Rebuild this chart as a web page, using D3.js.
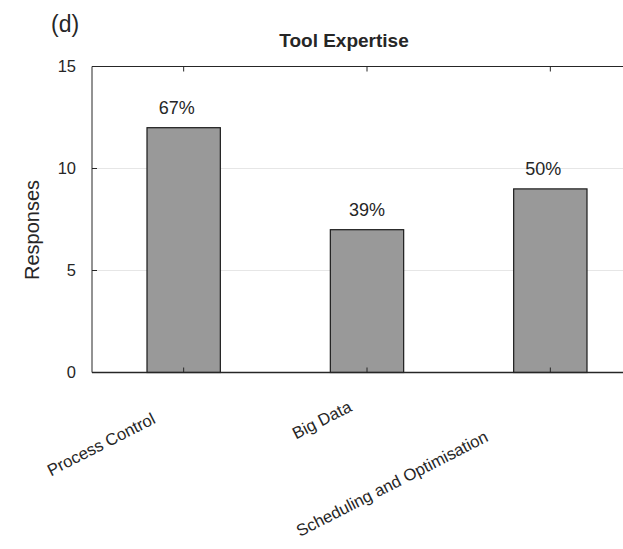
<!DOCTYPE html>
<html><head><meta charset="utf-8">
<script src="https://cdn.jsdelivr.net/npm/d3@7"></script>
<style>body{margin:0;background:#fff}svg{display:block}text{font-family:"Liberation Sans",Arial,sans-serif;fill:#262626}</style>
</head><body>
<script>
const categories = ["Process Control", "Big Data", "Scheduling and Optimisation"];
const responses = [12, 7, 9];
const percentLabels = ["67%", "39%", "50%"];
const yTicks = [0, 5, 10, 15];
// per-label placement (end of rotated text relative to its tick), layout only
const labelOffsets = [[-27, 50], [-14, 38], [-61, 68]];
const labelShift = [-7, 0, -7];

const W = 623, H = 549;
const svg = d3.select("body").append("svg").attr("width", W).attr("height", H);

const mL = 92, mR = 642, mT = 66.5, mB = 372.5;
const x = d3.scaleLinear().domain([0.5, 3.5]).range([mL, mR]);
const y = d3.scaleLinear().domain([0, 15]).range([mB, mT]);
const barW = 0.4;

// grid
svg.append("g").selectAll("line").data(yTicks.filter(t => t > 0 && t < 15)).join("line")
  .attr("x1", mL).attr("x2", mR).attr("y1", d => y(d)).attr("y2", d => y(d))
  .attr("stroke", "#e6e6e6").attr("stroke-width", 1);

// bars
svg.append("g").selectAll("rect").data(responses).join("rect")
  .attr("x", (d, i) => x(i + 1 - barW / 2))
  .attr("width", x(1 + barW / 2) - x(1 - barW / 2))
  .attr("y", d => y(d)).attr("height", d => y(0) - y(d))
  .attr("fill", "#999999").attr("stroke", "#1a1a1a").attr("stroke-width", 1.2);

// axes box
const axisCol = "#262626";
svg.append("line").attr("x1", mL).attr("x2", mR).attr("y1", mB).attr("y2", mB).attr("stroke", axisCol).attr("stroke-width", 1.5);
svg.append("line").attr("x1", mL).attr("x2", mR).attr("y1", mT).attr("y2", mT).attr("stroke", axisCol).attr("stroke-width", 1);
svg.append("line").attr("x1", mL).attr("x2", mL).attr("y1", mT).attr("y2", mB).attr("stroke", axisCol).attr("stroke-width", 1);

// y ticks
const yAxis = d3.axisLeft(y).tickValues(yTicks).tickSize(0).tickPadding(16);
const ga = svg.append("g").attr("transform", `translate(${mL},0)`).call(yAxis);
ga.select(".domain").remove();
ga.selectAll("text").style("font-size", "16.5px").attr("fill", "#262626").style("font-family", '"Liberation Sans",Arial,sans-serif');
svg.append("g").selectAll("line").data(yTicks.filter(t => t > 0 && t < 15)).join("line")
  .attr("x1", mL).attr("x2", mL + 5).attr("y1", d => y(d)).attr("y2", d => y(d))
  .attr("stroke", axisCol).attr("stroke-width", 1);

// x ticks (inside, top and bottom)
const xs = categories.map((c, i) => i + 1);
svg.append("g").selectAll("line").data(xs).join("line")
  .attr("x1", d => x(d)).attr("x2", d => x(d)).attr("y1", mB).attr("y2", mB - 5)
  .attr("stroke", axisCol).attr("stroke-width", 1);
svg.append("g").selectAll("line").data(xs).join("line")
  .attr("x1", d => x(d)).attr("x2", d => x(d)).attr("y1", mT).attr("y2", mT + 5)
  .attr("stroke", axisCol).attr("stroke-width", 1);

// x labels rotated
svg.append("g").selectAll("text").data(categories).join("text")
  .attr("transform", (d, i) => `translate(${x(i + 1) + labelOffsets[i][0]},${mB + labelOffsets[i][1]}) rotate(-27)`)
  .attr("text-anchor", "end").style("font-size", "16.7px").text(d => d);

// value labels
svg.append("g").selectAll("text").data(responses).join("text")
  .attr("x", (d, i) => x(i + 1) + labelShift[i]).attr("y", d => y(d) - 14)
  .attr("text-anchor", "middle").style("font-size", "18px").text((d, i) => percentLabels[i]);

// y label
svg.append("text").attr("transform", `translate(39,230) rotate(-90)`)
  .attr("text-anchor", "middle").style("font-size", "20px").text("Responses");

// title
svg.append("text").attr("x", 344).attr("y", 47).attr("text-anchor", "middle")
  .style("font-size", "19px").style("font-weight", "bold").attr("fill", "#000").text("Tool Expertise");

// panel label
svg.append("text").attr("x", 51).attr("y", 32).style("font-size", "23px").attr("fill", "#000").text("(d)");
</script>
</body></html>
